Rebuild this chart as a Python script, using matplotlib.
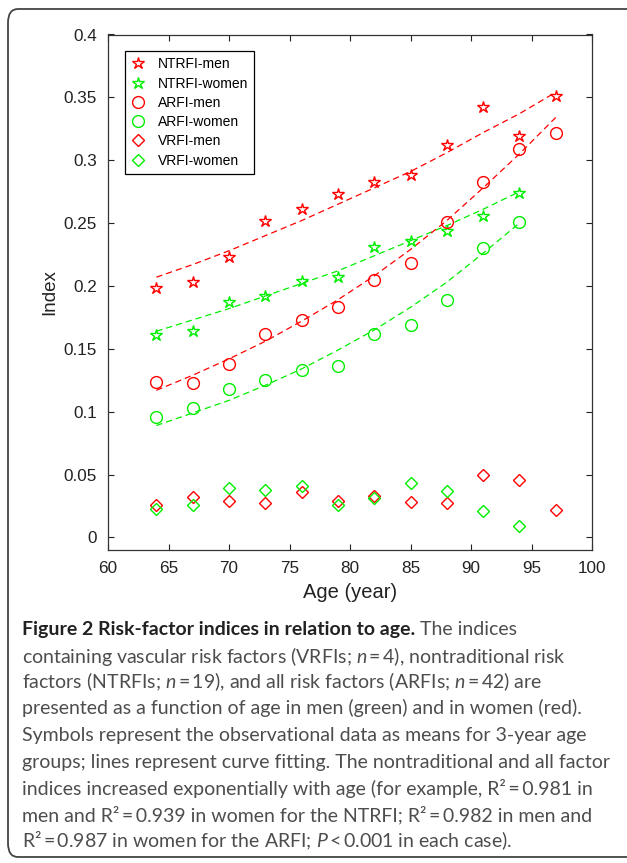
import matplotlib.pyplot as plt
from matplotlib.patches import FancyBboxPatch

# Data
ages_men = [64, 67, 70, 73, 76, 79, 82, 85, 88, 91, 94, 97]
ages_women = [64, 67, 70, 73, 76, 79, 82, 85, 88, 91, 94]

ntrfi_men = [0.198, 0.203, 0.223, 0.252, 0.261, 0.273, 0.283, 0.288, 0.312, 0.342, 0.319, 0.351]
ntrfi_women = [0.161, 0.164, 0.187, 0.192, 0.204, 0.207, 0.231, 0.236, 0.244, 0.256, 0.274]
arfi_men = [0.124, 0.123, 0.138, 0.162, 0.173, 0.183, 0.205, 0.218, 0.251, 0.283, 0.309, 0.322]
arfi_women = [0.096, 0.103, 0.118, 0.125, 0.133, 0.136, 0.162, 0.169, 0.189, 0.230, 0.251]
vrfi_men = [0.026, 0.032, 0.029, 0.027, 0.036, 0.029, 0.033, 0.028, 0.027, 0.050, 0.046, 0.022]
vrfi_women = [0.023, 0.026, 0.039, 0.038, 0.041, 0.026, 0.031, 0.043, 0.037, 0.021, 0.009]

# fitted curves (dashed), read at each age group
fit_ntrfi_men = [0.207, 0.217, 0.228, 0.240, 0.252, 0.265, 0.278, 0.291, 0.306, 0.322, 0.337, 0.354]
fit_ntrfi_women = [0.164, 0.173, 0.182, 0.192, 0.202, 0.212, 0.224, 0.236, 0.248, 0.261, 0.275]
fit_arfi_men = [0.117, 0.129, 0.142, 0.156, 0.172, 0.189, 0.208, 0.229, 0.252, 0.278, 0.305, 0.334]
fit_arfi_women = [0.089, 0.099, 0.109, 0.121, 0.134, 0.149, 0.165, 0.183, 0.203, 0.226, 0.250]

yticks = [0, 0.05, 0.1, 0.15, 0.2, 0.25, 0.3, 0.35, 0.4]
ytick_labels = ['0', '0.05', '0.1', '0.15', '0.2', '0.25', '0.3', '0.35', '0.4']
xticks = [60, 65, 70, 75, 80, 85, 90, 95, 100]

ts = '\u2009'  # thin space around "=" as in the journal typesetting
caption_bold = 'Figure 2 Risk-factor indices in relation to age.'
caption_lines = [
    ' The indices',
    f'containing vascular risk factors (VRFIs; $n${ts}={ts}4), nontraditional risk',
    f'factors (NTRFIs; $n${ts}={ts}19), and all risk factors (ARFIs; $n${ts}={ts}42) are',
    'presented as a function of age in men (green) and in women (red).',
    'Symbols represent the observational data as means for 3-year age',
    'groups; lines represent curve fitting. The nontraditional and all factor',
    f'indices increased exponentially with age (for example, R\u00b2{ts}={ts}0.981 in',
    f'men and R\u00b2{ts}={ts}0.939 in women for the NTRFI; R\u00b2{ts}={ts}0.982 in men and',
    f'R\u00b2{ts}={ts}0.987 in women for the ARFI; $P${ts}<{ts}0.001 in each case).',
]

RED = '#ff0000'
GREEN = '#00ee00'
CAP_FONT = 'Lato'

plt.rcParams['font.family'] = ['Liberation Sans', 'DejaVu Sans']
plt.rcParams['mathtext.fontset'] = 'custom'
plt.rcParams['mathtext.it'] = CAP_FONT + ':italic'
plt.rcParams['mathtext.rm'] = CAP_FONT

W, H = 627, 863
fig = plt.figure(figsize=(W / 100, H / 100), dpi=100)

# rounded frame around the whole figure
frame = FancyBboxPatch((8 / W, 1 - 857 / H), 640 / W, 848 / H,
                       boxstyle='round,pad=0,rounding_size=0.016',
                       transform=fig.transFigure, fill=False,
                       edgecolor='#444444', linewidth=1.3)
fig.patches.append(frame)

ax = fig.add_axes([108 / W, 1 - 550 / H, 484 / W, 515.5 / H])

dash = (0, (5, 3.2))
ax.plot(ages_men, fit_ntrfi_men, color=RED, ls=dash, lw=0.9)
ax.plot(ages_women, fit_ntrfi_women, color=GREEN, ls=dash, lw=0.9)
ax.plot(ages_men, fit_arfi_men, color=RED, ls=dash, lw=0.9)
ax.plot(ages_women, fit_arfi_women, color=GREEN, ls=dash, lw=0.9)

mk = dict(ls='none', mfc='none', mew=1.0)
ax.plot(ages_men, ntrfi_men, marker='*', ms=9, color=RED, label='NTRFI-men', **mk)
ax.plot(ages_women, ntrfi_women, marker='*', ms=9, color=GREEN, label='NTRFI-women', **mk)
ax.plot(ages_men, arfi_men, marker='o', ms=8.5, color=RED, label='ARFI-men', **mk)
ax.plot(ages_women, arfi_women, marker='o', ms=8.5, color=GREEN, label='ARFI-women', **mk)
ax.plot(ages_men, vrfi_men, marker='D', ms=6.5, color=RED, label='VRFI-men', **mk)
ax.plot(ages_women, vrfi_women, marker='D', ms=6.5, color=GREEN, label='VRFI-women', **mk)

ax.set_xlim(60, 100)
ax.set_ylim(-0.01, 0.4)
ax.set_xticks(xticks)
ax.set_yticks(yticks)
ax.set_yticklabels(ytick_labels)
ax.tick_params(direction='in', top=True, right=True, length=4, width=0.8,
               labelsize=12.3, pad=8, colors='#222222')
for s in ax.spines.values():
    s.set_linewidth(0.9)
    s.set_color('#333333')
ax.set_xlabel('Age (year)', fontsize=14.5, labelpad=5, color='#222222')
ax.set_ylabel('Index', fontsize=13.5, labelpad=4, color='#222222')

leg = ax.legend(loc='upper left', bbox_to_anchor=(0.035, 0.968), fontsize=10,
                frameon=True, fancybox=False, framealpha=1, edgecolor='black',
                borderpad=0.45, labelspacing=0.38, handlelength=1.0,
                handletextpad=0.9, borderaxespad=0)
leg.get_frame().set_linewidth(0.9)

# caption under the chart; size chosen so the longest line ends near x = 610 px as in the original
renderer = fig.canvas.get_renderer()
probe = fig.text(0, 0, caption_lines[5], family=[CAP_FONT, 'DejaVu Sans'], fontsize=12)
w12 = probe.get_window_extent(renderer=renderer).width
probe.remove()
cap_size = 12 * 586 / w12

cap_font = dict(family=[CAP_FONT, 'DejaVu Sans'], fontsize=cap_size, va='center', ha='left')
x0 = 22 / W
line_y = [629, 656, 682, 708, 735, 762, 788, 815, 841]
t = fig.text(x0, 1 - line_y[0] / H, caption_bold, fontweight='bold', color='#222222', **cap_font)
bb = t.get_window_extent(renderer=renderer)
fig.text(bb.x1 / W, 1 - line_y[0] / H, caption_lines[0], color='#4d4d4d', **cap_font)
for y, line in zip(line_y[1:], caption_lines[1:]):
    fig.text(x0, 1 - y / H, line, color='#4d4d4d', **cap_font)

fig.savefig('out.png', dpi=100)
